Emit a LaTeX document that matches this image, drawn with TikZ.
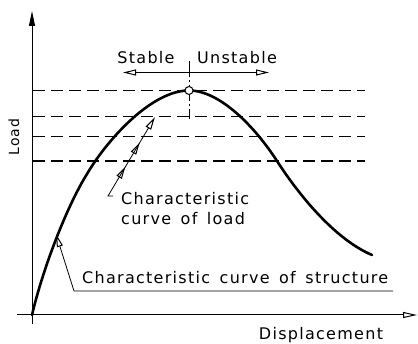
\documentclass[tikz,border=0pt]{standalone}
\usepackage{fontspec}
\setmainfont{DejaVu Sans}[LetterSpace=8.0,WordSpace=1.5]
\usetikzlibrary{arrows.meta,decorations.markings}
\tikzset{
  lbl/.style={inner sep=0pt, font=\fontsize{16}{20}\selectfont},
  axisline/.style={line width=1pt},
  levelline/.style={line width=1.6pt, dash pattern=on 12pt off 6pt},
  maincurve/.style={line width=2.6pt, line cap=round},
  thinline/.style={line width=0.8pt},
  opentip/.style={-{Triangle[open,length=13pt,width=6pt,line width=1pt]}},
}
\begin{document}
\begin{tikzpicture}[x=1pt,y=-1pt]
\useasboundingbox (0,0) rectangle (418,344);
% axes
\coordinate (o) at (32,315);
\coordinate (ybot) at (32,324);
\coordinate (ytop) at (32,11);
\coordinate (xl) at (17,315);
\coordinate (xr) at (417,315);
\draw[axisline,-{Triangle[length=15pt,width=6pt]}] (ybot) -- (ytop);
\draw[axisline,-{Triangle[open,length=14pt,width=6pt,line width=1pt]}] (xl) -- (xr);
% level lines
\foreach \yy/\nm in {90.5/a,116.5/b,136.5/c,161/d}{
  \coordinate (l\nm1) at (33,\yy);
  \coordinate (l\nm2) at (365,\yy);
  \draw[levelline] (l\nm1) -- (l\nm2);
}
% main curve
\coordinate (m1) at (87,174);
\coordinate (m3) at (277,161);
\coordinate (mend) at (372,255);
\draw[maincurve] (o) .. controls (43,268) and (67,206) .. (m1)
  .. controls (105,143) and (150,90.5) .. (189,90.5)
  .. controls (220,90.5) and (255,127) .. (m3)
  .. controls (295,189) and (332,238) .. (mend);
% peak
\coordinate (vt) at (189,61);
\coordinate (vb) at (189,119);
\draw[thinline, dash pattern=on 16pt off 3pt on 2pt off 3pt] (vt) -- (vb);
\coordinate (ha) at (123,72.5);
\coordinate (hb) at (269,72.5);
\coordinate (hm) at (189,72.5);
\draw[thinline,opentip] (hm) -- (ha);
\draw[thinline,opentip] (hm) -- (hb);
\node[circle, draw, fill=white, line width=1pt, inner sep=0pt, minimum size=8pt] (peak) at (189,90.5) {};
\node[lbl] (stable) at (146,58) {Stable};
\node[lbl] (unstable) at (237,58) {Unstable};
% load characteristic
\coordinate (lh) at (113,196);
\coordinate (l0) at (108,196);
\coordinate (l1) at (155,117);
\draw[thinline,opentip,
  postaction={decorate, decoration={markings,
    mark=at position 0.40 with {\arrow{Triangle[open,length=12pt,width=6pt,line width=1pt]}},
    mark=at position 0.69 with {\arrow{Triangle[open,length=12pt,width=6pt,line width=1pt]}}}}]
  (lh) -- (l0) -- (l1);
\node[lbl, anchor=west, align=left] (lcurve) at (121,209) {Characteristic\\curve of load};
% structure leader
\coordinate (s1) at (393,291);
\coordinate (s2) at (74,291);
\coordinate (s3) at (56,234);
\draw[thinline,opentip] (s1) -- (s2) -- (s3);
\node[lbl, anchor=west] (scurve) at (82,278) {Characteristic curve of structure};
% axis labels
\node[lbl, rotate=90, font=\fontsize{14}{16}\selectfont] (load) at (14,137) {Load};
\node[lbl] (disp) at (321,335) {Displacement};
\end{tikzpicture}
\end{document}
